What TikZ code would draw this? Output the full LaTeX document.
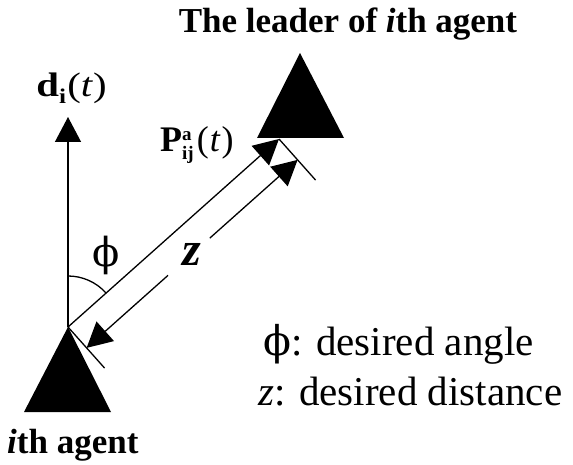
\documentclass[tikz,border=0pt]{standalone}
\usepackage{fontspec}
\usepackage{graphicx}
\setmainfont{Liberation Serif}
\newfontfamily\phifont{DejaVu Serif}
\usetikzlibrary{arrows.meta,calc}
\begin{document}
\begin{tikzpicture}[x=1pt,y=1pt,
  thinline/.style={line width=1.3pt},
  bigtip/.style={-{Triangle[length=25pt,width=26pt]}},
  agent/.style={fill=black},
  lbl/.style={inner sep=0pt},
]
\useasboundingbox (0,0) rectangle (573,464);
% key points
\coordinate (A) at (68,137);
\coordinate (B) at (279,325);
\coordinate (D) at (68,347);
\coordinate (tickA) at ($(A)+(36.6,-41.1)$);
\coordinate (tickB) at ($(B)+(36.6,-41.1)$);
\coordinate (zA) at ($(A)+(18.6,-20.9)$);
\coordinate (zB) at ($(B)+(18.6,-20.9)$);
\coordinate (gapL) at ($(zA)!0.386!(zB)$);
\coordinate (gapU) at ($(zA)!0.584!(zB)$);
% agents
\fill[agent] (A) -- (111,52) -- (24,52) -- cycle;
\fill[agent] (300,411) -- (344,326) -- (257,326) -- cycle;
% connectors
\draw[thinline,bigtip] (A) -- (D);
\draw[thinline,bigtip] (A) -- (B);
\draw[thinline] (A) -- (tickA);
\draw[thinline] (B) -- (tickB);
\draw[thinline,bigtip] (gapU) -- (zB);
\draw[thinline,bigtip] (gapL) -- (zA);
\draw[thinline] ($(A)+(0,51)$) arc[start angle=90,end angle=41.7,radius=51];
% labels
\node[lbl,anchor=base] (title) at (348,431)
  {\fontsize{35}{40}\selectfont\bfseries The leader of \textit{i}th agent};
\node[lbl,anchor=base west] (agentlbl) at (7,11)
  {\fontsize{35}{40}\selectfont\bfseries \textit{i}th agent};
\node[lbl,anchor=base] (dlbl) at (71.5,367)
  {\scalebox{1.2}[1]{\fontsize{34}{38}\selectfont\bfseries d\raisebox{-7pt}{\fontsize{21}{22}\selectfont i}\kern1pt\mdseries(\textit{t})}};
\node[lbl,anchor=base west] (plbl) at (160,312)
  {\fontsize{36}{40}\selectfont\bfseries P\rlap{\raisebox{11pt}{\fontsize{19}{20}\selectfont a}}\raisebox{-8pt}{\fontsize{19}{20}\selectfont ij}\kern3pt\mdseries(\kern1pt\textit{t}\kern1pt)};
\node[lbl] (philbl) at (106,209) {\fontsize{40}{44}\selectfont\phifont ϕ};
\node[lbl] (zlbl) at (192,210) {\fontsize{48}{50}\selectfont\bfseries\itshape z};
\node[lbl,anchor=base west] (leg1) at (263,109)
  {\fontsize{41}{45}\selectfont{\phifont ϕ}: desired angle};
\node[lbl,anchor=base west] (leg2) at (258,59)
  {\fontsize{41}{45}\selectfont\textit{z}: desired distance};
\end{tikzpicture}
\end{document}
